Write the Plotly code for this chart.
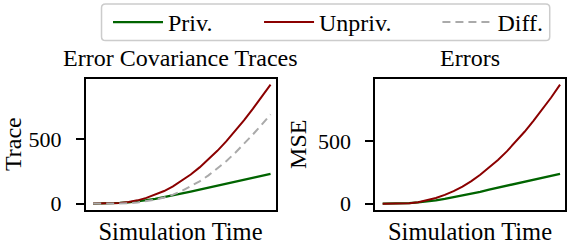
import plotly.graph_objects as go

# ---------------- data ----------------
time = [0, 5, 10, 15, 20, 25, 30, 35, 40, 45, 50, 55, 60, 65, 70, 75, 80, 85, 90, 95, 100]
trace_priv = [0, 0.5, 2, 5, 10, 17, 26, 37, 50, 64, 78, 93, 108, 123, 138, 153, 168, 184, 199, 214, 230]
trace_unpriv = [0, 0.2, 1, 4, 12, 25, 44, 68, 97, 133, 176, 225, 280, 341, 408, 481, 560, 644, 733, 825, 920]
mse_priv = [0, 0.4, 2, 5, 10, 17, 26, 38, 51, 65, 80, 95, 112, 128, 142, 158, 174, 191, 207, 222, 238]
mse_unpriv = [0, 0.3, 1.2, 4.5, 12.5, 26, 45, 70, 100, 137, 180, 230, 287, 349, 417, 492, 573, 660, 752, 846, 948]
trace_diff = [u - p for u, p in zip(trace_unpriv, trace_priv)]

ytick_vals = [0, 500]
ytick_text = ["0", "500"]
series_names = ["Priv.", "Unpriv.", "Diff."]
panel_titles = ["Error Covariance Traces", "Errors"]
y_titles = ["Trace", "MSE"]
x_title = "Simulation Time"

# ---------------- style ----------------
W, H = 567, 250
FONT = "Liberation Serif"
GREEN = "#006400"
RED = "#8b0000"
GRAY = "#aaaaaa"


def px_x(p):
    return p / W


def px_y(p):
    return 1 - p / H


def padded(vals, lo=0.05, hi=0.05):
    mn, mx = min(vals), max(vals)
    span = mx - mn
    return [mn - lo * span, mx + hi * span]


fig = go.Figure()

# left panel
fig.add_trace(go.Scatter(x=time, y=trace_priv, name=series_names[0], mode="lines",
                         line=dict(color=GREEN, width=2.3), xaxis="x", yaxis="y",
                         legend="legend"))
fig.add_trace(go.Scatter(x=time, y=trace_unpriv, name=series_names[1], mode="lines",
                         line=dict(color=RED, width=2), xaxis="x", yaxis="y",
                         legend="legend2"))
fig.add_trace(go.Scatter(x=time, y=trace_diff, name=series_names[2], mode="lines",
                         line=dict(color=GRAY, width=2, dash="8px,5px"), xaxis="x", yaxis="y",
                         legend="legend3"))
# right panel
fig.add_trace(go.Scatter(x=time, y=mse_priv, name=series_names[0], mode="lines",
                         line=dict(color=GREEN, width=2.3), xaxis="x2", yaxis="y2",
                         showlegend=False))
fig.add_trace(go.Scatter(x=time, y=mse_unpriv, name=series_names[1], mode="lines",
                         line=dict(color=RED, width=2), xaxis="x2", yaxis="y2",
                         showlegend=False))

xr = padded(time, 0.043, 0.028)
yr1 = padded(trace_unpriv + trace_priv + trace_diff)
yr2 = padded(mse_unpriv + mse_priv)

axis_common = dict(showline=True, mirror=True, linecolor="black", linewidth=1.5,
                   showgrid=False, zeroline=False)
xcommon = dict(axis_common, ticks="", showticklabels=False,
               title=dict(text=x_title, font=dict(family=FONT, size=24.5, color="black"), standoff=12))
ycommon = dict(axis_common, ticks="outside", ticklen=8, tickwidth=1.5, tickcolor="black",
               tickvals=ytick_vals, ticktext=ytick_text, ticklabelstandoff=10,
               tickfont=dict(family=FONT, size=22, color="black"))

dom_y = [px_y(215.7), px_y(81)]
fig.update_layout(
    width=W, height=H,
    margin=dict(l=0, r=0, t=0, b=0),
    paper_bgcolor="white", plot_bgcolor="white",
    font=dict(family=FONT, size=22, color="black"),
    hovermode=False,
    xaxis=dict(xcommon, domain=[px_x(85.7), px_x(276)], range=xr),
    yaxis=dict(ycommon, domain=dom_y, range=yr1, anchor="x",
               title=dict(text=y_titles[0], font=dict(family=FONT, size=24), standoff=4)),
    xaxis2=dict(xcommon, domain=[px_x(375.7), px_x(566)], range=xr, anchor="y2"),
    yaxis2=dict(ycommon, domain=dom_y, range=yr2, anchor="x2",
                title=dict(text=y_titles[1], font=dict(family=FONT, size=24), standoff=4)),
)

leg = dict(orientation="h", bgcolor="rgba(0,0,0,0)", borderwidth=0,
           font=dict(family=FONT, size=24, color="black"),
           yanchor="middle", y=px_y(22.7), xanchor="left", itemwidth=50)
fig.update_layout(
    legend=dict(leg, x=px_x(171.7 - 63.5)),
    legend2=dict(leg, x=px_x(323 - 63.5)),
    legend3=dict(leg, x=px_x(501.7 - 63.5)),
)

# rounded legend frame
x0, x1 = px_x(101.7), px_x(550.7)
y0, y1 = px_y(41.7), px_y(4)
rx, ry = 4 / W, 4 / H
path = (f"M {x0+rx},{y0} L {x1-rx},{y0} Q {x1},{y0} {x1},{y0+ry} L {x1},{y1-ry} "
        f"Q {x1},{y1} {x1-rx},{y1} L {x0+rx},{y1} Q {x0},{y1} {x0},{y1-ry} "
        f"L {x0},{y0+ry} Q {x0},{y0} {x0+rx},{y0} Z")
fig.add_shape(type="path", path=path, xref="paper", yref="paper",
              line=dict(color="#cccccc", width=1.5), fillcolor="rgba(255,255,255,0.8)", layer="below")

# panel titles
fig.add_annotation(text=panel_titles[0], x=(px_x(85.7) + px_x(276)) / 2, y=px_y(59.5),
                   xref="paper", yref="paper", showarrow=False, xanchor="center", yanchor="middle",
                   font=dict(family=FONT, size=24, color="black"))
fig.add_annotation(text=panel_titles[1], x=(px_x(375.7) + px_x(566)) / 2, y=px_y(59.5),
                   xref="paper", yref="paper", showarrow=False, xanchor="center", yanchor="middle",
                   font=dict(family=FONT, size=24, color="black"))

fig.write_html("out.html", config={"displayModeBar": False},
               post_script="document.body.style.margin='0';document.body.style.padding='0';")
